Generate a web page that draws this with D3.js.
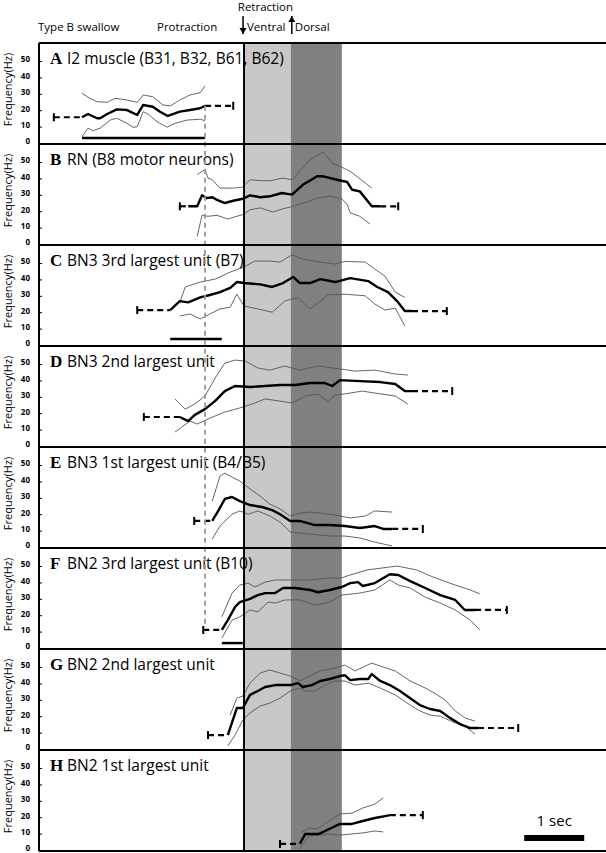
<!DOCTYPE html>
<html>
<head>
<meta charset="utf-8">
<script src="https://cdn.jsdelivr.net/npm/d3@7"></script>
<style>
  body { margin: 0; background: #fff; }
  svg { display: block; font-family: "Open Sans", sans-serif; }
</style>
</head>
<body>
<div id="chart"></div>
<script>
// time in seconds (0 = onset of retraction), frequency in Hz
const panelLetters = ["A", "B", "C", "D", "E", "F", "G", "H"];
const panelTitles = [
  "I2 muscle (B31, B32, B61, B62)",
  "RN (B8 motor neurons)",
  "BN3 3rd largest unit (B7)",
  "BN3 2nd largest unit",
  "BN3 1st largest unit (B4/B5)",
  "BN2 3rd largest unit (B10)",
  "BN2 2nd largest unit",
  "BN2 1st largest unit"
];
const yTicks = [0, 10, 20, 30, 40, 50];

// phase boundaries (s)
const protractionMark = -0.65;
const ventralStart = 0;
const dorsalStart = 0.78;
const dorsalEnd = 1.63;

// mean firing frequency
const meanA = [[-2.70,15.7],[-2.60,17.7],[-2.45,15.1],[-2.40,15.1],[-2.28,17.7],[-2.12,20.5],[-1.95,20.1],[-1.78,17.1],[-1.68,23.2],[-1.52,22.1],[-1.40,19.1],[-1.27,16.5],[-1.07,19.1],[-0.90,20.1],[-0.73,21.2],[-0.65,22.7]];
const meanB = [[-0.93,23],[-0.78,23],[-0.70,29.7],[-0.62,28],[-0.53,28.5],[-0.45,26.9],[-0.32,25],[-0.18,26.4],[-0.02,27.6],[0.10,29.7],[0.27,28.5],[0.43,29.1],[0.63,31.1],[0.80,30.1],[0.98,36.1],[1.22,41.3],[1.32,41.3],[1.55,39.2],[1.72,37.8],[1.80,33.1],[1.93,32.1],[2.13,23],[2.27,23]];
const meanC = [[-1.23,21.3],[-1.07,26.8],[-0.93,26],[-0.73,29],[-0.57,30.5],[-0.40,32.3],[-0.23,34.8],[-0.12,38.4],[0,37.8],[0.27,37],[0.47,35.4],[0.65,37.8],[0.82,41.5],[0.93,37.8],[1.10,37.8],[1.27,40.2],[1.52,38.4],[1.77,40.8],[2.07,39],[2.22,35.4],[2.40,32.3],[2.55,26.8],[2.68,20.7],[2.80,20.7]];
const meanD = [[-1.07,17.7],[-0.93,15.2],[-0.82,19],[-0.65,22.5],[-0.48,27.5],[-0.32,33.5],[-0.15,36.6],[0.10,36],[0.35,36.6],[0.60,37.2],[0.85,37.2],[1.10,38.4],[1.35,38.4],[1.47,36.6],[1.60,40.2],[1.93,39.6],[2.27,39],[2.52,37.8],[2.68,33.5],[2.80,33.5]];
const meanE = [[-0.53,15.9],[-0.43,22],[-0.32,29.3],[-0.20,30.5],[-0.07,28],[0.10,25.6],[0.30,24.4],[0.47,22.5],[0.60,20],[0.77,15.9],[0.93,15.9],[1.18,13.4],[1.43,13.4],[1.68,12.8],[1.93,11.6],[2.18,12.8],[2.32,11],[2.47,11]];
const meanF = [[-0.37,11],[-0.27,17],[-0.15,25],[-0.07,28],[0.10,30],[0.23,32.3],[0.35,33.5],[0.52,33.5],[0.65,36.6],[0.85,36.6],[1.10,35.4],[1.23,34],[1.43,35.4],[1.63,37.2],[1.77,39.6],[1.90,40.2],[1.98,37.8],[2.18,39.6],[2.43,45],[2.57,44.5],[2.77,40.8],[3.02,36.6],[3.27,32.3],[3.52,29.3],[3.68,23.2],[3.85,23.2]];
const meanG = [[-0.27,8.5],[-0.12,25],[-0.02,25],[0.10,33],[0.23,35.4],[0.35,37.8],[0.52,39],[0.77,39],[0.90,40.2],[0.98,37.8],[1.13,39],[1.27,41.5],[1.43,42.7],[1.60,44.5],[1.68,45],[1.77,42],[1.93,42.7],[2.07,42.7],[2.13,45.7],[2.27,41.5],[2.43,39],[2.60,35.4],[2.77,31],[2.93,26.8],[3.10,24.4],[3.27,23.2],[3.43,19],[3.60,15.2],[3.77,12.8],[3.90,12.8]];
const meanH = [[0.93,3.7],[1.02,9.8],[1.25,9.8],[1.42,12.8],[1.60,15.9],[1.80,15.9],[1.98,17.7],[2.18,19.5],[2.35,20.7],[2.43,21.3]];

// mean + SD
const upperA = [[-2.70,30.3],[-2.57,27.3],[-2.45,25.2],[-2.28,24.8],[-2.15,27.3],[-1.95,26.2],[-1.78,24.8],[-1.68,29.3],[-1.52,28.2],[-1.35,23.2],[-1.23,22.6],[-1.07,26.2],[-0.90,29.3],[-0.73,30.7],[-0.65,34.9]];
const upperB = [[-0.78,42.3],[-0.70,44.3],[-0.65,45.3],[-0.60,40.2],[-0.53,39.2],[-0.40,34.1],[-0.18,34.1],[-0.03,34.6],[0.10,39.2],[0.27,38.6],[0.43,38.6],[0.65,40.2],[0.80,39.2],[0.93,44.3],[1.10,51.4],[1.32,56.1],[1.47,49.4],[1.63,46.8],[1.77,44.3],[1.90,40.7],[2.13,34.1]];
const upperC = [[-1.07,26],[-0.98,35.4],[-0.73,38.4],[-0.48,40.2],[-0.23,44.5],[0,47.6],[0.18,51.2],[0.43,51.2],[0.60,50.6],[0.80,55],[0.98,52.4],[1.27,50.6],[1.52,49.4],[1.68,51],[2.02,50.6],[2.18,46.3],[2.35,42],[2.52,32.3],[2.68,29]];
const upperD = [[-1.15,28.7],[-0.98,22.5],[-0.82,25.6],[-0.65,30.5],[-0.48,41.5],[-0.32,50.6],[-0.15,52.4],[0.02,51.8],[0.23,47.6],[0.43,46.3],[0.68,48.8],[0.93,46.3],[1.23,48.8],[1.60,47],[1.85,45.7],[2.18,46.3],[2.52,43.9],[2.73,43.3]];
const upperE = [[-0.53,28],[-0.40,43.3],[-0.32,45],[-0.07,40.2],[0.10,35.4],[0.27,31],[0.43,26.2],[0.60,23.2],[0.77,18.9],[0.93,20.7],[1.10,21.3],[1.27,20.7],[1.52,19.5],[1.77,17.7],[2.02,18.9],[2.18,22],[2.47,21.3]];
const upperF = [[-0.37,19],[-0.20,33.5],[-0.07,38.4],[0.07,39.6],[0.18,37.2],[0.35,40.2],[0.52,41.5],[0.77,41.5],[1.10,41.5],[1.43,42.7],[1.63,42.7],[1.72,44],[2.05,47.6],[2.55,50],[2.88,47.6],[3.15,43.3],[3.52,38.4],[3.77,35.4],[3.93,33]];
const upperG = [[-0.23,20.7],[-0.12,31],[-0.02,32.3],[0.10,40.2],[0.27,46.3],[0.43,48.2],[0.60,46.3],[0.77,44.5],[0.93,41.5],[1.10,44.5],[1.27,47.6],[1.52,49.4],[1.68,51.2],[1.85,47.6],[2.02,50.6],[2.13,52.4],[2.27,50.6],[2.52,47.6],[2.77,41.5],[3.02,37.2],[3.18,34],[3.35,29.9],[3.52,23.2],[3.68,19],[3.85,17]];
const upperH = [[0.95,10.4],[1.08,13.4],[1.22,12.8],[1.42,17.7],[1.60,22],[1.80,22.5],[1.98,25.6],[2.18,28],[2.32,31.7]];

// mean - SD
const lowerA = [[-2.70,3.8],[-2.60,9.0],[-2.52,7.5],[-2.40,9.0],[-2.23,14.0],[-2.12,15.1],[-1.95,12.0],[-1.85,9.6],[-1.78,9.9],[-1.68,19.1],[-1.60,17.7],[-1.45,13.0],[-1.28,9.6],[-1.18,11.6],[-0.95,14.0],[-0.73,14.5],[-0.65,13.6]];
const lowerB = [[-0.78,4.7],[-0.70,17.5],[-0.60,16.9],[-0.45,17.5],[-0.27,15.2],[-0.12,16.9],[-0.02,17.9],[0.10,20.9],[0.27,22],[0.48,19.5],[0.65,21.5],[0.82,23],[1.05,25.6],[1.22,28],[1.43,29.1],[1.63,27.6],[1.72,24],[1.77,19],[1.93,16.9],[2.10,12.2]];
const lowerC = [[-1.07,17.7],[-0.90,18.9],[-0.73,15.9],[-0.57,18.9],[-0.40,22],[-0.23,23],[-0.12,31],[0,23.8],[0.23,22],[0.47,20],[0.68,26.8],[0.90,29],[1.10,22],[1.27,26.8],[1.40,30.5],[1.68,31],[2.02,30],[2.18,25],[2.35,21.3],[2.52,22.5],[2.68,11.6]];
const lowerD = [[-1.15,8.5],[-0.90,15.2],[-0.78,13.4],[-0.57,17],[-0.32,20.7],[-0.07,23.2],[0.18,26.2],[0.35,28.7],[0.60,27.4],[0.80,26.2],[1.02,30.5],[1.23,31.7],[1.40,27.4],[1.52,31],[1.77,32.3],[1.97,33.5],[2.18,32.3],[2.52,30.5],[2.73,25.6]];
const lowerE = [[-0.53,4.9],[-0.40,12.8],[-0.20,20],[-0.07,22],[0.07,20],[0.23,22],[0.43,18.9],[0.60,15.2],[0.77,9.1],[1.10,7.9],[1.43,6.7],[1.68,6.7],[1.93,5.5],[2.18,3],[2.47,0.6]];
const lowerF = [[-0.37,6],[-0.20,17],[-0.07,19],[0.10,23.2],[0.23,22],[0.40,28],[0.52,27.4],[0.68,29.3],[0.93,29.3],[1.18,26.2],[1.43,28],[1.63,32.3],[1.93,33.5],[2.18,35.4],[2.43,41.5],[2.57,38.4],[2.77,36.6],[3.02,31],[3.27,27.4],[3.52,23.2],[3.77,17],[3.93,11]];
const lowerG = [[-0.27,1.8],[-0.15,8.5],[-0.02,17.7],[0.10,22],[0.27,26.2],[0.43,28],[0.60,31],[0.77,35.4],[0.93,37.2],[1.02,35.4],[1.18,35.4],[1.35,39],[1.52,41.5],[1.68,41.5],[1.85,39],[2.07,40.2],[2.27,37.2],[2.52,33],[2.77,26.8],[2.93,23.2],[3.10,20.7],[3.27,20],[3.52,15.9],[3.68,14],[3.85,9.1]];
const lowerH = [[0.93,0.6],[1.08,8.5],[1.42,9.8],[1.60,9.1],[1.80,9.8],[1.98,10.4],[2.18,11.6],[2.32,11]];

// baseline before / after the swallow: [start s, end s, Hz]
const baselineBefore = [[-3.17,-2.70,15.7],[-1.07,-0.93,23],[-1.78,-1.23,21.3],[-1.67,-1.07,17.7],[-0.83,-0.53,15.9],[-0.68,-0.37,11],[-0.60,-0.27,8.5],[0.60,0.93,3.7]];
const baselineAfter = [[-0.65,-0.18,22.7],[2.27,2.57,23],[2.80,3.38,20.7],[2.80,3.47,33.5],[2.47,2.98,11],[3.85,4.38,23.2],[3.90,4.57,12.8],[2.43,2.98,21.3]];

// burst duration bars: [panel index, start s, end s, Hz]
const durationBars = [[0,-2.70,-0.65,3],[2,-1.23,-0.37,3.7],[5,-0.37,-0.02,3]];

// 1 s calibration bar (s)
const scaleBar = [4.67, 5.67];

const means = [meanA, meanB, meanC, meanD, meanE, meanF, meanG, meanH];
const uppers = [upperA, upperB, upperC, upperD, upperE, upperF, upperG, upperH];
const lowers = [lowerA, lowerB, lowerC, lowerD, lowerE, lowerF, lowerG, lowerH];

const W = 606, H = 853;
const frameLeft = 39, frameTop = 43;
const panelH = 101;
const frameBottom = frameTop + panelH * panelLetters.length;

const x = d3.scaleLinear().domain([-3.417, 6.033]).range([frameLeft, W]);
const y = d3.scaleLinear().domain([0, 61]).range([panelH - 1, 0]);

const svg = d3.select("#chart").append("svg")
  .attr("width", W)
  .attr("height", H);

// phase bands
svg.append("rect")
  .attr("x", x(ventralStart)).attr("y", frameTop)
  .attr("width", x(dorsalStart) - x(ventralStart))
  .attr("height", frameBottom - frameTop)
  .attr("fill", "#c8c8c8");
svg.append("rect")
  .attr("x", x(dorsalStart)).attr("y", frameTop)
  .attr("width", x(dorsalEnd) - x(dorsalStart))
  .attr("height", frameBottom - frameTop)
  .attr("fill", "#808080");

const line = d3.line().x(d => x(d[0])).y(d => y(d[1]));

panelLetters.forEach((letter, i) => {
  const g = svg.append("g")
    .attr("transform", `translate(0,${frameTop + i * panelH})`);

  // y axis
  const yAxis = d3.axisLeft(y).tickValues(yTicks).tickSize(-3).tickPadding(9);
  const ax = g.append("g")
    .attr("transform", `translate(${frameLeft},0)`)
    .call(yAxis);
  ax.select(".domain").remove();
  ax.selectAll("text")
    .attr("font-size", 8)
    .attr("font-weight", "bold")
    .attr("font-family", "'Open Sans', sans-serif")
    .attr("fill", "#000")
    .attr("dy", "0.1em");
  ax.selectAll("line").attr("stroke", "#000").attr("stroke-width", 1);

  g.append("text")
    .attr("transform", `translate(12,${panelH / 2 - 4}) rotate(-90)`)
    .attr("text-anchor", "middle")
    .attr("font-size", 11)
    .text("Frequency(Hz)");

  // SD lines
  [uppers[i], lowers[i]].forEach(s => {
    g.append("path")
      .attr("d", line(s))
      .attr("fill", "none")
      .attr("stroke", "#555")
      .attr("stroke-width", 0.9);
  });

  // mean line
  g.append("path")
    .attr("d", line(means[i]))
    .attr("fill", "none")
    .attr("stroke", "#000")
    .attr("stroke-width", 2.4)
    .attr("stroke-linejoin", "round");

  // dashed baselines with end marks
  const b0 = baselineBefore[i], b1 = baselineAfter[i];
  [[b0, b0[0]], [b1, b1[1]]].forEach(([b, tick]) => {
    g.append("line")
      .attr("x1", x(b[0])).attr("x2", x(b[1]))
      .attr("y1", y(b[2])).attr("y2", y(b[2]))
      .attr("stroke", "#000").attr("stroke-width", 2.2)
      .attr("stroke-dasharray", "6,4");
    g.append("line")
      .attr("x1", x(tick)).attr("x2", x(tick))
      .attr("y1", y(b[2]) - 4).attr("y2", y(b[2]) + 4)
      .attr("stroke", "#000").attr("stroke-width", 2);
  });

  // duration bars
  durationBars.filter(d => d[0] === i).forEach(d => {
    g.append("line")
      .attr("x1", x(d[1])).attr("x2", x(d[2]))
      .attr("y1", y(d[3])).attr("y2", y(d[3]))
      .attr("stroke", "#000").attr("stroke-width", 2.5);
  });

  // panel title
  const t = g.append("text").attr("y", 21);
  t.append("tspan")
    .attr("x", 50)
    .attr("font-family", "'Liberation Serif', serif")
    .attr("font-weight", "bold")
    .attr("font-size", 17)
    .text(letter);
  t.append("tspan")
    .attr("x", 67)
    .attr("font-size", 15.5)
    .text(panelTitles[i]);
});

// protraction end marker
svg.append("line")
  .attr("x1", x(protractionMark)).attr("x2", x(protractionMark))
  .attr("y1", frameTop + y(22.7)).attr("y2", frameTop + 5 * panelH + y(14))
  .attr("stroke", "#999").attr("stroke-width", 1.8)
  .attr("stroke-dasharray", "5,4");

// frame and panel separators
for (let i = 0; i <= panelLetters.length; i++) {
  svg.append("line")
    .attr("x1", frameLeft).attr("x2", W)
    .attr("y1", frameTop + i * panelH).attr("y2", frameTop + i * panelH)
    .attr("stroke", "#000").attr("stroke-width", 2);
}
svg.append("line")
  .attr("x1", frameLeft).attr("x2", frameLeft)
  .attr("y1", frameTop).attr("y2", frameBottom)
  .attr("stroke", "#000").attr("stroke-width", 2);
svg.append("line")
  .attr("x1", x(ventralStart)).attr("x2", x(ventralStart))
  .attr("y1", frameTop).attr("y2", frameBottom)
  .attr("stroke", "#000").attr("stroke-width", 2);

// header
const header = svg.append("g").attr("font-size", 11.5);
header.append("text").attr("x", 38).attr("y", 31).text("Type B swallow");
header.append("text").attr("x", 157).attr("y", 31).text("Protraction");
header.append("text").attr("x", (x(ventralStart) + x(dorsalStart)) / 2 - 2).attr("y", 11)
  .attr("text-anchor", "middle").text("Retraction");
header.append("text").attr("x", x(ventralStart) + 3).attr("y", 31).text("Ventral");
header.append("text").attr("x", x(dorsalStart) + 4).attr("y", 31).text("Dorsal");

const arrow = (xp, down) => {
  const y0 = 16, y1 = 34;
  svg.append("line")
    .attr("x1", xp).attr("x2", xp).attr("y1", y0).attr("y2", y1)
    .attr("stroke", "#000").attr("stroke-width", 1.5);
  const tip = down ? y1 : y0;
  const base = down ? y1 - 6 : y0 + 6;
  svg.append("path")
    .attr("d", `M${xp - 3.5},${base} L${xp},${tip} L${xp + 3.5},${base} Z`)
    .attr("fill", "#000");
};
arrow(x(ventralStart) - 1, true);
arrow(x(dorsalStart) + 1, false);

// calibration bar
svg.append("rect")
  .attr("x", x(scaleBar[0])).attr("y", 835)
  .attr("width", x(scaleBar[1]) - x(scaleBar[0])).attr("height", 6)
  .attr("fill", "#000");
svg.append("text")
  .attr("x", (x(scaleBar[0]) + x(scaleBar[1])) / 2).attr("y", 826)
  .attr("text-anchor", "middle").attr("font-size", 15)
  .text("1 sec");
</script>
</body>
</html>
